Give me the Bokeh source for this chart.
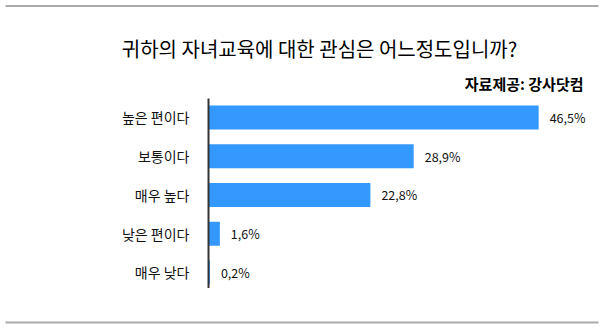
from bokeh.plotting import figure
from bokeh.models import Range1d, FixedTicker, ColumnDataSource, Column
from bokeh.core.properties import value
from bokeh.embed import file_html
from bokeh.resources import INLINE

title_text = "귀하의 자녀교육에 대한 관심은 어느정도입니까?"
source_text = "자료제공: 강사닷컴"
categories = ["높은 편이다", "보통이다", "매우 높다", "낮은 편이다", "매우 낮다"]
values = [46.5, 28.9, 22.8, 1.6, 0.2]

FONT = "Noto Sans CJK KR"
W = 610
TOP_H, MAIN_H, BOT_H = 98, 190, 41
n = len(categories)
ys = [n - 1 - i for i in range(n)]
value_labels = [f"{v:.1f}%".replace(".", ",") for v in values]


def blank(h):
    f = figure(width=W, height=h, output_backend="svg", toolbar_location=None,
               x_range=Range1d(0, W), y_range=Range1d(h, 0),
               min_border=0, title=None)
    f.outline_line_color = None
    f.xaxis.visible = False
    f.yaxis.visible = False
    f.xgrid.visible = False
    f.ygrid.visible = False
    return f


# header
top = blank(TOP_H)
top.segment(x0=[5], y0=[5.5], x1=[598], y1=[5.5], line_color="#aaaaaa", line_width=2)
top.text(x=[319], y=[48], text=[title_text], text_align="center", text_baseline="middle",
         text_font=value(FONT), text_font_size="20px", text_color="#000000")
top.text(x=[583], y=[83], text=[source_text], text_align="right", text_baseline="middle",
         text_font=value(FONT), text_font_size="15px", text_font_style="bold",
         text_color="#000000")

# main chart
src = ColumnDataSource(dict(y=ys, v=values, lab=value_labels))
p = figure(width=W, height=MAIN_H, output_backend="svg", toolbar_location=None,
           x_range=Range1d(0, 390 / 7.1), y_range=Range1d(-0.413, 4.49),
           min_border_left=208, min_border_right=12, min_border_top=0,
           min_border_bottom=0, title=None)
p.outline_line_color = None
p.xgrid.visible = False
p.ygrid.visible = False
p.xaxis.visible = False

p.hbar(y="y", right="v", left=0, height=0.62, source=src,
       fill_color="#3399ff", line_color=None)
p.text(x="v", y="y", text="lab", source=src, x_offset=11,
       text_baseline="middle", text_align="left",
       text_font=value(FONT), text_font_size="12.5px", text_color="#111111")

ax = p.yaxis[0]
ax.ticker = FixedTicker(ticks=ys)
ax.major_label_overrides = {y: c for y, c in zip(ys, categories)}
ax.axis_line_color = "#333333"
ax.axis_line_width = 2
ax.major_tick_line_color = None
ax.minor_tick_line_color = None
ax.major_label_standoff = 13
ax.major_label_text_font = FONT
ax.major_label_text_font_size = "14px"
ax.major_label_text_color = "#111111"

# footer
bot = blank(BOT_H)
bot.segment(x0=[5], y0=[34], x1=[598], y1=[34], line_color="#aaaaaa", line_width=2)

layout = Column(children=[Column(children=[top]), p, Column(children=[bot])], spacing=0)
open("out.html", "w").write(file_html(layout, INLINE))
